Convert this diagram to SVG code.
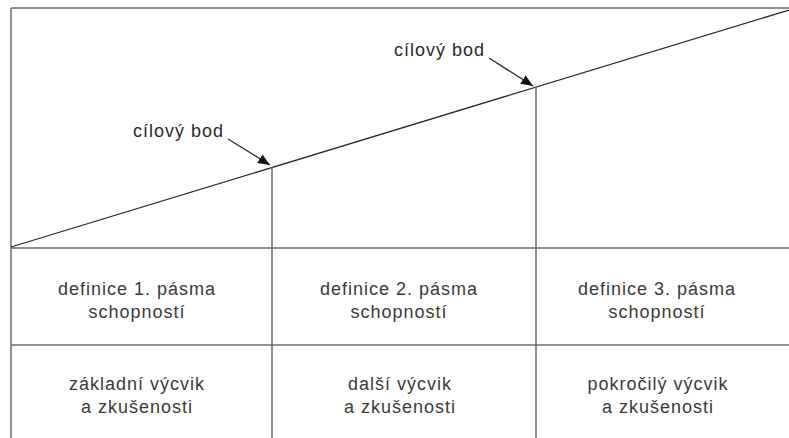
<svg xmlns="http://www.w3.org/2000/svg" width="789" height="438" viewBox="0 0 789 438">
<style>
.frame{stroke:#6a6a6a;stroke-width:1.5;fill:none}
.line{stroke:#2a2a2a;stroke-width:1.3;fill:none}
.t{font-family:"Liberation Sans",Arial,sans-serif;font-size:18px;letter-spacing:1px;fill:#3a3a3a;text-anchor:middle}
.lab{font-family:"Liberation Sans",Arial,sans-serif;font-size:18px;letter-spacing:1px;fill:#2a2a2a}
</style>
<defs>
<marker id="ah" viewBox="0 0 12 10" refX="12" refY="5" markerWidth="12" markerHeight="10" markerUnits="userSpaceOnUse" orient="auto">
<path d="M0,0 L12,5 L0,10 z" fill="#111"/>
</marker>
</defs>
<rect width="789" height="438" fill="#fff"/>
<g id="frame">
<line class="frame" x1="11" y1="8" x2="789" y2="8"/>
<line class="frame" x1="11" y1="8" x2="11" y2="438"/>
<line class="frame" x1="11" y1="248" x2="789" y2="248"/>
<line class="frame" x1="11" y1="345" x2="789" y2="345"/>
</g>
<g id="connectors">
<line class="line" x1="11" y1="247" x2="789" y2="10"/>
<line class="frame" x1="272" y1="167" x2="272" y2="438"/>
<line class="frame" x1="536" y1="87" x2="536" y2="438"/>
<line class="line" x1="228" y1="139" x2="270" y2="165" marker-end="url(#ah)"/>
<line class="line" x1="489" y1="58" x2="533" y2="86" marker-end="url(#ah)"/>
</g>
<g id="label1"><text class="lab" x="133" y="137">cílový bod</text></g>
<g id="label2"><text class="lab" x="394" y="56">cílový bod</text></g>
<g id="cell1"><text class="t" x="137" y="295">definice 1. pásma</text><text class="t" x="137" y="318">schopností</text></g>
<g id="cell2"><text class="t" x="399" y="295">definice 2. pásma</text><text class="t" x="399" y="318">schopností</text></g>
<g id="cell3"><text class="t" x="657" y="295">definice 3. pásma</text><text class="t" x="657" y="318">schopností</text></g>
<g id="cell4"><text class="t" x="137" y="390">základní výcvik</text><text class="t" x="137" y="413">a zkušenosti</text></g>
<g id="cell5"><text class="t" x="400" y="390">další výcvik</text><text class="t" x="400" y="413">a zkušenosti</text></g>
<g id="cell6"><text class="t" x="658" y="390">pokročilý výcvik</text><text class="t" x="658" y="413">a zkušenosti</text></g>
</svg>
